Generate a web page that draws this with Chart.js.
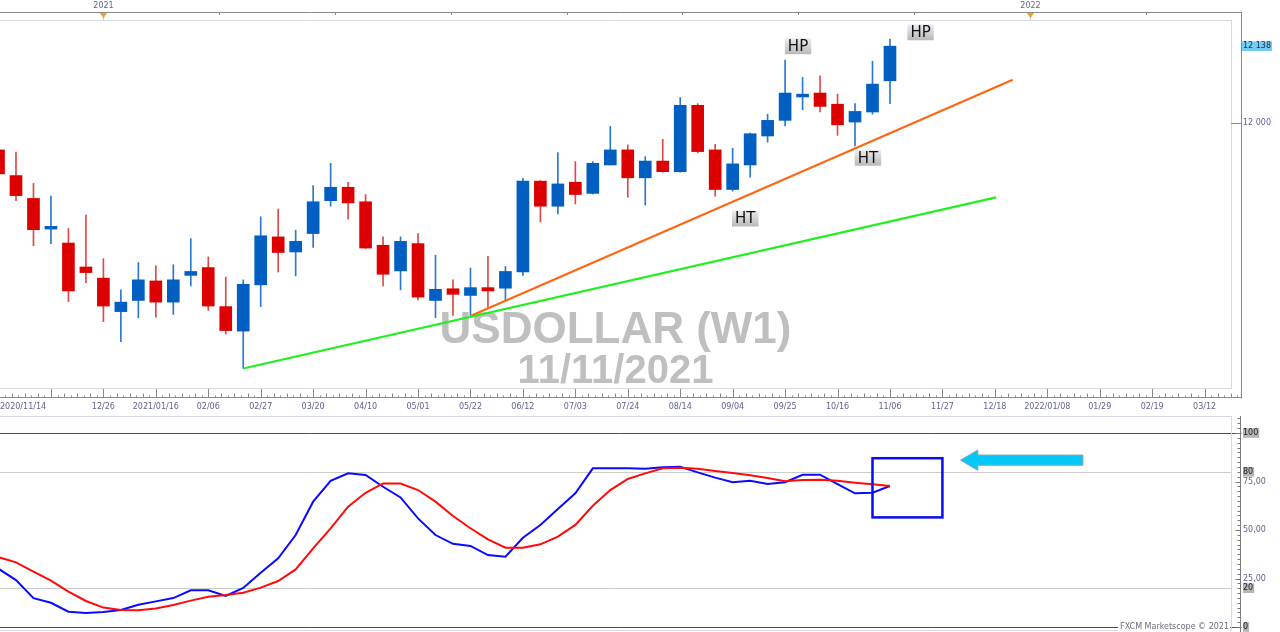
<!DOCTYPE html>
<html>
<head>
<meta charset="utf-8">
<title>USDOLLAR (W1)</title>
<script src="https://cdn.jsdelivr.net/npm/chart.js@4.4.1/dist/chart.umd.min.js"></script>
<style>
  html, body { margin: 0; padding: 0; background: #fff; }
  #wrap { position: relative; width: 1280px; height: 632px; overflow: hidden; background: #fff; }
  #priceChart { position: absolute; left: 0; top: 0; }
  #stochChart { position: absolute; left: 0; top: 416px; }
</style>
</head>
<body>
<div id="wrap">
  <canvas id="priceChart" width="1280" height="416"></canvas>
  <canvas id="stochChart" width="1280" height="216"></canvas>
</div>
<script>
// --- weekly candles, week 0 = 2020/12/26 ---
const weeks = [-6, -5, -4, -3, -2, -1, 0, 1, 2, 3, 4, 5, 6, 7, 8, 9, 10, 11, 12, 13, 14, 15, 16, 17, 18, 19,
  20, 21, 22, 23, 24, 25, 26, 27, 28, 29, 30, 31, 32, 33, 34, 35, 36, 37, 38, 39, 40, 41, 42, 43, 44, 45];
const opens = [11952, 11906, 11865, 11810, 11785, 11742, 11722, 11662, 11682, 11717, 11679, 11727, 11741, 11671,
  11627, 11710, 11796, 11769, 11802, 11861, 11885, 11859, 11781, 11735, 11784, 11682, 11703, 11691, 11705, 11704,
  11733, 11896, 11851, 11894, 11874, 11925, 11952, 11902, 11932, 11913, 12032, 11952, 11881, 11925, 11977, 12005,
  12047, 12054, 12034, 12002, 12020, 12076];
const highs = [11965, 11948, 11892, 11869, 11811, 11835, 11757, 11701, 11750, 11744, 11746, 11793, 11760, 11724,
  11719, 11832, 11846, 11808, 11888, 11928, 11894, 11872, 11796, 11796, 11802, 11763, 11719, 11740, 11761, 11743,
  11901, 11897, 11947, 11931, 11931, 11994, 11961, 11940, 11971, 12046, 12035, 11962, 11955, 11982, 12016, 12113,
  12082, 12085, 12052, 12035, 12111, 12151];
const lows = [11895, 11861, 11780, 11784, 11680, 11714, 11644, 11608, 11651, 11652, 11657, 11708, 11664, 11622,
  11560, 11671, 11733, 11726, 11777, 11851, 11828, 11775, 11708, 11701, 11683, 11651, 11655, 11655, 11668, 11681,
  11727, 11823, 11837, 11855, 11873, 11925, 11867, 11853, 11912, 11912, 11947, 11869, 11878, 11903, 11966, 11995,
  12024, 12020, 11978, 11959, 12016, 12035];
const closes = [11909, 11870, 11809, 11815, 11699, 11732, 11672, 11679, 11719, 11679, 11719, 11734, 11672, 11628,
  11711, 11798, 11768, 11788, 11859, 11885, 11857, 11776, 11729, 11788, 11688, 11702, 11693, 11705, 11699, 11734,
  11896, 11851, 11891, 11872, 11928, 11952, 11902, 11932, 11913, 12032, 11949, 11881, 11927, 11981, 12005, 12054,
  12052, 12030, 11997, 12021, 12070, 12138];

// --- stochastic %K (blue) and %D (red) ---
const stochK = [30, 24.2, 14.9, 12.5, 7.9, 7.2, 7.7, 8.8, 11.5, 13.2, 14.9, 18.9, 18.9, 16, 20.1, 28, 35.4, 47.4,
  64.6, 75.3, 79.2, 78.4, 72.3, 66.8, 56, 47.4, 42.9, 41.8, 37.1, 36.2, 46, 52.6, 60.8, 68.9, 81.8, 81.8, 81.8,
  81.6, 82.3, 82.6, 79.7, 77, 74.6, 75.4, 73.7, 74.6, 78.5, 78.5, 73.7, 68.9, 69.2, 72.7];
const stochD = [36, 33.3, 28.5, 23.9, 18.2, 13.4, 10, 8.8, 8.6, 9.5, 11.3, 13.6, 15.6, 16.5, 17.7, 20.3, 23.7, 29.7,
  40.5, 50.8, 62, 69.2, 74, 74, 70.6, 64.6, 57.2, 50.9, 45.2, 40.9, 40.9, 42.6, 46.6, 52.6, 62.5, 70.6, 76.3, 79.2,
  81.8, 82.1, 81.6, 80.4, 79.4, 78.2, 76.8, 75.1, 75.8, 75.9, 75.4, 74.4, 73.6, 72.7];
const stochTicks = [0, 20, 25, 50, 75, 80, 100];
const stochLevels = [0, 20, 80, 100];

// --- trend lines (week, price) ---
const greenTrendX = [8, 51.07];
const greenTrendY = [11560, 11867];
const orangeTrendX = [21, 52.02];
const orangeTrendY = [11654, 12078];

// --- HP / HT notes (week, price) ---
const noteText = ['HP', 'HP', 'HT', 'HT'];
const noteX = [39.74, 46.75, 36.72, 43.74];
const noteY = [12138, 12163, 11829, 11938];

// --- time axis ---
const dateTicks = [-6, -3, 0, 3, 6, 9, 12, 15, 18, 21, 24, 27, 30, 33, 36, 39, 42, 45, 48, 51, 54, 57, 60, 63];
const dateLabels = ['2020/11/14', '', '12/26', '2021/01/16', '02/06', '02/27', '03/20', '04/10', '05/01', '05/22',
  '06/12', '07/03', '07/24', '08/14', '09/04', '09/25', '10/16', '11/06', '11/27', '12/18', '2022/01/08',
  '01/29', '02/19', '03/12'];
const yearTicks = [0, 53];
const yearLabels = ['2021', '2022'];
const priceTicks = [12000];

// --- highlight box + arrow on the oscillator (week, value) ---
const boxX = [44, 48];
const boxY = [56.5, 87];
const arrowX = [49.03, 50.03, 56.04];   // tip, head base, tail
const arrowY = [86.0, 5.3, 2.65];       // centre, head half-height, shaft half-height

const watermark = ['USDOLLAR (W1)', '11/11/2021'];
const lastClose = closes[closes.length - 1];

const X_MIN = -5.915, X_MAX = 64.51;
const AXIS_TEXT = '#616195';
const FRAME_LIGHT = '#d5d9e6';
const FRAME_DARK = '#8a8a8a';
const AXIS_W = 49;

Chart.defaults.font.family = '"DejaVu Sans", sans-serif';
Chart.defaults.animation = false;

function fmtPrice(v) {
    return String(Math.round(v)).replace(/\B(?=(\d{3})+(?!\d))/g, ' ');
}
function isUp(i) { return closes[i] >= opens[i]; }

function hLine(ctx, x1, x2, y) {
    ctx.beginPath(); ctx.moveTo(x1, y); ctx.lineTo(x2, y); ctx.stroke();
}
function vLine(ctx, x, y1, y2) {
    ctx.beginPath(); ctx.moveTo(x, y1); ctx.lineTo(x, y2); ctx.stroke();
}

// price panel decorations: watermark, frames, time axis, notes
const priceDecor = {
    id: 'priceDecor',
    beforeDatasetsDraw(chart) {
        const { ctx, chartArea: a } = chart;
        ctx.save();
        ctx.fillStyle = '#bfbfbf';
        ctx.textAlign = 'center';
        ctx.textBaseline = 'alphabetic';
        const cx = (a.left + a.right) / 2;
        ctx.font = 'bold 44px "Liberation Sans", Arial, sans-serif';
        ctx.fillText(watermark[0], cx, a.bottom - 45);
        ctx.font = 'bold 40px "Liberation Sans", Arial, sans-serif';
        ctx.fillText(watermark[1], cx, a.bottom - 5);
        ctx.restore();
    },
    afterDatasetsDraw(chart) {
        const { ctx, scales: { x, y } } = chart;
        ctx.save();
        ctx.font = '15px "DejaVu Sans", sans-serif';
        ctx.textAlign = 'center';
        ctx.textBaseline = 'middle';
        noteText.forEach((t, i) => {
            const px = x.getPixelForValue(noteX[i]);
            const py = y.getPixelForValue(noteY[i]);
            const w = ctx.measureText(t).width + 6, h = 16;
            const g = ctx.createLinearGradient(0, py - h / 2, 0, py + h / 2);
            g.addColorStop(0, '#eeeeee');
            g.addColorStop(1, '#b8b8b8');
            ctx.fillStyle = g;
            ctx.fillRect(px - w / 2, py - h / 2, w, h);
            ctx.fillStyle = '#111';
            ctx.fillText(t, px, py + 1);
        });
        ctx.restore();
    },
    afterDraw(chart) {
        const { ctx, chartArea: a, scales: { x, y } } = chart;
        const outerR = a.right + 10.5;
        const baseY = 397.5;
        ctx.save();
        ctx.lineWidth = 1;

        // inner light frame
        ctx.strokeStyle = FRAME_LIGHT;
        hLine(ctx, a.left, a.right + 0.5, a.top + 0.5);
        vLine(ctx, a.right + 0.5, a.top, a.bottom + 0.5);
        hLine(ctx, a.left, a.right + 0.5, a.bottom + 0.5);

        // outer dark frame + axis baselines
        ctx.strokeStyle = FRAME_DARK;
        hLine(ctx, 0, outerR, 12.5);
        vLine(ctx, outerR, 12, baseY + 1);
        hLine(ctx, 0, outerR, baseY);
        priceTicks.forEach(v => {
            const py = Math.round(y.getPixelForValue(v)) + 0.5;
            hLine(ctx, a.right, outerR, py);
        });

        // top year band
        for (let k = -1; k <= 10; k++) {
            const px = Math.round(x.getPixelForValue(yearTicks[0] + k * (yearTicks[1] - yearTicks[0]) / 8)) + 0.5;
            if (px > 0 && px < outerR) vLine(ctx, px, 12.5, 15);
        }
        ctx.font = '8px "DejaVu Sans", sans-serif';
        ctx.textAlign = 'center';
        ctx.textBaseline = 'middle';
        yearTicks.forEach((v, i) => {
            const px = Math.round(x.getPixelForValue(v)) + 0.5;
            ctx.fillStyle = '#f2a22a';
            ctx.beginPath();
            ctx.moveTo(px - 3.5, 13); ctx.lineTo(px + 3.5, 13); ctx.lineTo(px, 18.5);
            ctx.closePath(); ctx.fill();
            ctx.strokeStyle = '#c9c9d4';
            vLine(ctx, px, 18, 20);
            ctx.fillStyle = AXIS_TEXT;
            ctx.fillText(yearLabels[i], px, 5.5);
        });

        // bottom time axis
        ctx.strokeStyle = FRAME_DARK;
        const step = dateTicks[1] - dateTicks[0];
        dateTicks.forEach(v => {
            const px = Math.round(x.getPixelForValue(v)) + 0.5;
            if (px > 0 && px < outerR) vLine(ctx, px, 389, baseY + 0.5);
            for (let k = 1; k < 8; k++) {
                const mx = Math.round(x.getPixelForValue(v + k * step / 8)) + 0.5;
                if (mx <= 0 || mx >= outerR) continue;
                const h = k % 2 ? 2 : 4;
                vLine(ctx, mx, baseY - h, baseY);
            }
        });
        ctx.fillStyle = AXIS_TEXT;
        dateTicks.forEach((v, i) => {
            const t = dateLabels[i];
            if (!t) return;
            const px = x.getPixelForValue(v);
            const w = ctx.measureText(t).width;
            let left = px - w / 2;
            if (left < 0) left = 0;
            if (left + w > outerR) return;
            ctx.textAlign = 'left';
            ctx.fillText(t, left, 406.5);
        });
        ctx.restore();
    }
};

// oscillator panel decorations
const stochDecor = {
    id: 'stochDecor',
    beforeDatasetsDraw(chart) {
        const { ctx, chartArea: a, scales: { y } } = chart;
        const outerR = a.right + 10.5;
        ctx.save();
        ctx.lineWidth = 1;
        stochLevels.forEach(v => {
            const py = Math.round(y.getPixelForValue(v)) + 0.5;
            const major = v === 0 || v === 100;
            ctx.strokeStyle = major ? '#4d4d4d' : '#cccccc';
            hLine(ctx, 0, major ? outerR : a.right, py);
        });
        ctx.restore();
    },
    afterDatasetsDraw(chart) {
        const { ctx, scales: { x, y } } = chart;
        ctx.save();
        // highlight box
        const bx1 = x.getPixelForValue(boxX[0]), bx2 = x.getPixelForValue(boxX[1]);
        const by1 = y.getPixelForValue(boxY[1]), by2 = y.getPixelForValue(boxY[0]);
        ctx.strokeStyle = '#0a0af5';
        ctx.lineWidth = 2.5;
        ctx.strokeRect(bx1, by1, bx2 - bx1, by2 - by1);
        // arrow pointing left
        const tip = x.getPixelForValue(arrowX[0]);
        const base = x.getPixelForValue(arrowX[1]);
        const tail = x.getPixelForValue(arrowX[2]);
        const cy = y.getPixelForValue(arrowY[0]);
        const hh = y.getPixelForValue(arrowY[0] - arrowY[1]) - cy;
        const sh = y.getPixelForValue(arrowY[0] - arrowY[2]) - cy;
        ctx.beginPath();
        ctx.moveTo(tip, cy);
        ctx.lineTo(base, cy - hh);
        ctx.lineTo(base, cy - sh);
        ctx.lineTo(tail, cy - sh);
        ctx.lineTo(tail, cy + sh);
        ctx.lineTo(base, cy + sh);
        ctx.lineTo(base, cy + hh);
        ctx.closePath();
        ctx.fillStyle = '#00c8f8';
        ctx.fill();
        ctx.strokeStyle = '#9aa4aa';
        ctx.lineWidth = 1;
        ctx.stroke();
        ctx.restore();
    },
    afterDraw(chart) {
        const { ctx, chartArea: a, scales: { y } } = chart;
        const axisX = a.right + 9.5;
        ctx.save();
        ctx.lineWidth = 1;
        ctx.strokeStyle = FRAME_LIGHT;
        hLine(ctx, 0, a.right + 0.5, 0.5);
        vLine(ctx, a.right + 0.5, 0, a.bottom + 4);
        hLine(ctx, 0, a.right + 0.5, a.bottom + 3.5);

        ctx.strokeStyle = '#7a7a7a';
        vLine(ctx, axisX, 0, chart.height);
        for (let v = 0; v <= 107.5; v += 2.5) {
            const py = Math.round(y.getPixelForValue(v)) + 0.5;
            const major = v % 25 === 0;
            hLine(ctx, axisX - (major ? 5 : 3), axisX, py);
        }

        // copyright line
        ctx.font = '8px "DejaVu Sans", sans-serif';
        ctx.textAlign = 'right';
        ctx.textBaseline = 'middle';
        const txt = 'FXCM Marketscope © 2021';
        const w = ctx.measureText(txt).width;
        const ty = y.getPixelForValue(0);
        ctx.fillStyle = '#fff';
        ctx.fillRect(a.right - 2 - w - 2, ty - 5, w + 3, 9);
        ctx.fillStyle = '#6a6a80';
        ctx.fillText(txt, a.right - 2, ty);
        ctx.restore();
    }
};

new Chart(document.getElementById('priceChart'), {
    type: 'bar',
    data: {
        datasets: [
            {
                type: 'line',
                data: greenTrendX.map((v, i) => ({ x: v, y: greenTrendY[i] })),
                borderColor: '#1ff01f',
                borderWidth: 2.2,
                pointRadius: 0,
                order: 0
            },
            {
                type: 'line',
                data: orangeTrendX.map((v, i) => ({ x: v, y: orangeTrendY[i] })),
                borderColor: '#ff6614',
                borderWidth: 2.2,
                pointRadius: 0,
                order: 0
            },
            {
                data: weeks.map((w, i) => ({ x: w, y: [opens[i], closes[i]] })),
                backgroundColor: weeks.map((w, i) => isUp(i) ? '#005fc1' : '#dd0000'),
                barThickness: 12,
                grouped: false,
                order: 1
            },
            {
                data: weeks.map((w, i) => ({ x: w, y: [lows[i], highs[i]] })),
                backgroundColor: weeks.map((w, i) => isUp(i) ? '#2a78d2' : '#e04848'),
                barThickness: 1,
                grouped: false,
                order: 2
            }
        ]
    },
    options: {
        responsive: false,
        animation: false,
        layout: { padding: { top: 20, bottom: 28, left: 0, right: 0 } },
        plugins: { legend: { display: false }, tooltip: { enabled: false } },
        scales: {
            x: { type: 'linear', min: X_MIN, max: X_MAX, offset: false, display: false },
            y: {
                position: 'right',
                min: 11525,
                max: 12185,
                grid: { display: false, drawTicks: true, tickLength: 12 },
                border: { display: false },
                afterFit: s => { s.width = AXIS_W; },
                afterBuildTicks: s => { s.ticks = priceTicks.concat([lastClose]).map(v => ({ value: v })); },
                ticks: {
                    padding: 0,
                    autoSkip: false,
                    font: { size: 8 },
                    callback: v => fmtPrice(v),
                    color: c => (c.tick && c.tick.value === lastClose) ? '#1a2a40' : AXIS_TEXT,
                    showLabelBackdrop: c => !!(c.tick && c.tick.value === lastClose),
                    backdropColor: '#74ccf4',
                    backdropPadding: { top: 0, bottom: 0, left: 1, right: 1 }
                }
            }
        }
    },
    plugins: [priceDecor]
});

new Chart(document.getElementById('stochChart'), {
    type: 'line',
    data: {
        datasets: [
            {
                data: weeks.map((w, i) => ({ x: w, y: stochD[i] })),
                borderColor: '#ff0a0a',
                borderWidth: 2,
                pointRadius: 0,
                tension: 0,
                order: 0
            },
            {
                data: weeks.map((w, i) => ({ x: w, y: stochK[i] })),
                borderColor: '#0a0aff',
                borderWidth: 2,
                pointRadius: 0,
                tension: 0,
                order: 1
            }
        ]
    },
    options: {
        responsive: false,
        animation: false,
        layout: { padding: { top: 17, bottom: 5, left: 0, right: 0 } },
        plugins: { legend: { display: false }, tooltip: { enabled: false } },
        scales: {
            x: { type: 'linear', min: X_MIN, max: X_MAX, offset: false, display: false },
            y: {
                position: 'right',
                min: 0,
                max: 100,
                grid: { display: false, drawTicks: true, tickLength: 12 },
                border: { display: false },
                afterFit: s => { s.width = AXIS_W; },
                afterBuildTicks: s => { s.ticks = stochTicks.map(v => ({ value: v })); },
                ticks: {
                    padding: 0,
                    autoSkip: false,
                    font: { size: 8 },
                    callback: v => stochLevels.includes(v) ? String(v) : v.toFixed(2).replace('.', ','),
                    color: c => (c.tick && stochLevels.includes(c.tick.value)) ? '#1a1a1a' : AXIS_TEXT,
                    showLabelBackdrop: c => !!(c.tick && stochLevels.includes(c.tick.value)),
                    backdropColor: '#b5b5b5',
                    backdropPadding: { top: 0, bottom: 0, left: 0, right: 1 }
                }
            }
        }
    },
    plugins: [stochDecor]
});
</script>
</body>
</html>
